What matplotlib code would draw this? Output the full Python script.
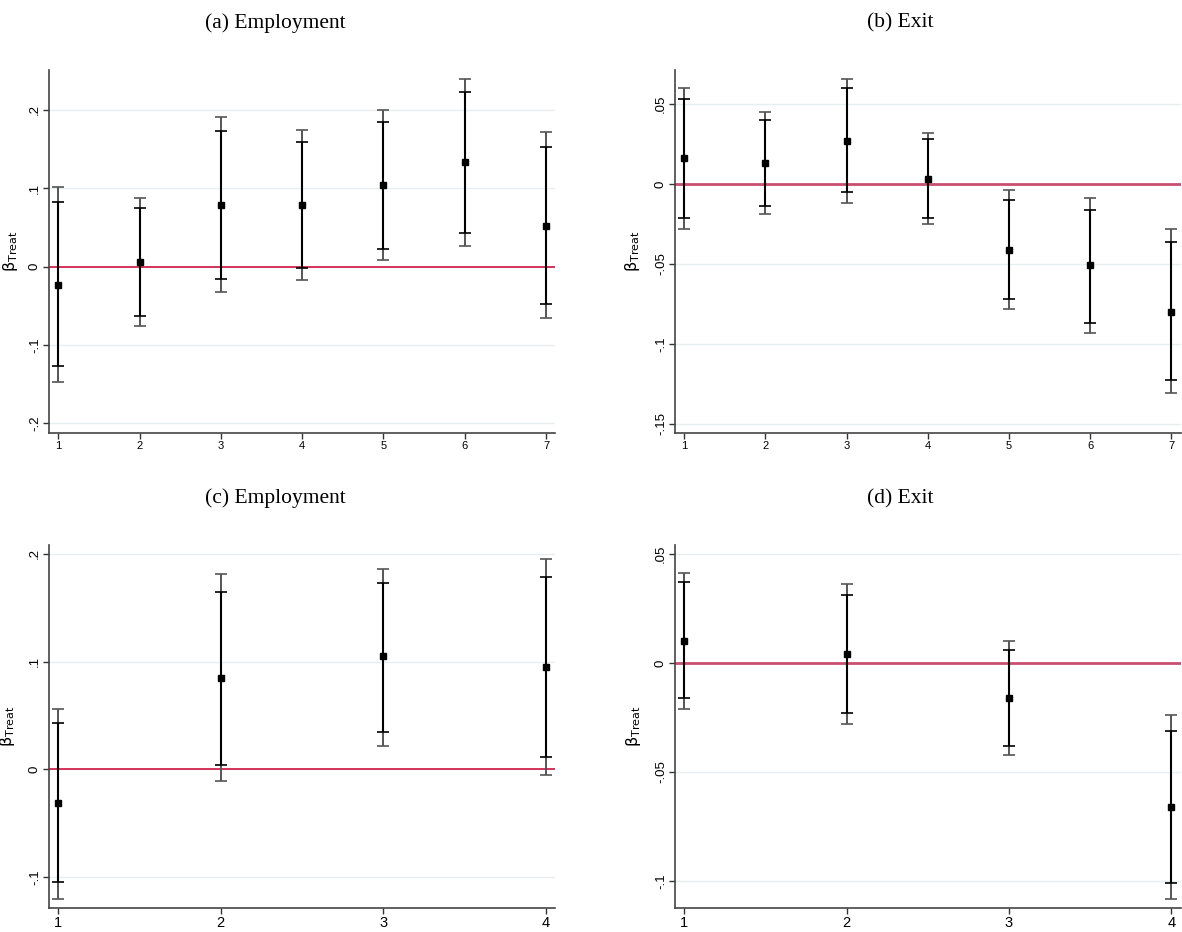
import numpy as np
import matplotlib
matplotlib.use("Agg")
import matplotlib.pyplot as plt

plt.rcParams['mathtext.fontset'] = 'dejavusans'

# panel (a) Employment, 7 periods
emp7_x = [1, 2, 3, 4, 5, 6, 7]
emp7_b = [-0.023, 0.006, 0.079, 0.079, 0.104, 0.133, 0.052]
emp7_lo90 = [-0.127, -0.063, -0.016, -0.002, 0.023, 0.043, -0.048]
emp7_hi90 = [0.082, 0.075, 0.173, 0.159, 0.185, 0.223, 0.153]
emp7_lo95 = [-0.147, -0.076, -0.033, -0.017, 0.008, 0.026, -0.066]
emp7_hi95 = [0.102, 0.088, 0.191, 0.174, 0.200, 0.240, 0.172]

# panel (b) Exit, 7 periods
exit7_x = [1, 2, 3, 4, 5, 6, 7]
exit7_b = [0.016, 0.013, 0.027, 0.003, -0.041, -0.051, -0.080]
exit7_lo90 = [-0.021, -0.014, -0.005, -0.021, -0.072, -0.087, -0.123]
exit7_hi90 = [0.053, 0.040, 0.060, 0.028, -0.010, -0.016, -0.036]
exit7_lo95 = [-0.028, -0.019, -0.012, -0.025, -0.078, -0.093, -0.131]
exit7_hi95 = [0.060, 0.045, 0.066, 0.032, -0.004, -0.009, -0.028]

# panel (c) Employment, 4 periods
emp4_x = [1, 2, 3, 4]
emp4_b = [-0.031, 0.085, 0.105, 0.095]
emp4_lo90 = [-0.105, 0.004, 0.035, 0.011]
emp4_hi90 = [0.043, 0.165, 0.173, 0.179]
emp4_lo95 = [-0.120, -0.011, 0.022, -0.005]
emp4_hi95 = [0.056, 0.181, 0.186, 0.195]

# panel (d) Exit, 4 periods
exit4_x = [1, 2, 3, 4]
exit4_b = [0.010, 0.004, -0.016, -0.066]
exit4_lo90 = [-0.016, -0.023, -0.038, -0.101]
exit4_hi90 = [0.037, 0.031, 0.006, -0.031]
exit4_lo95 = [-0.021, -0.028, -0.042, -0.108]
exit4_hi95 = [0.041, 0.036, 0.010, -0.024]

titles = ["(a) Employment", "(b) Exit", "(c) Employment", "(d) Exit"]
yticks_emp7 = [-0.2, -0.1, 0, 0.1, 0.2]
ylabels_emp7 = ["-.2", "-.1", "0", ".1", ".2"]
yticks_exit7 = [-0.15, -0.1, -0.05, 0, 0.05]
ylabels_exit7 = ["-.15", "-.1", "-.05", "0", ".05"]
yticks_emp4 = [-0.1, 0, 0.1, 0.2]
ylabels_emp4 = ["-.1", "0", ".1", ".2"]
yticks_exit4 = [-0.1, -0.05, 0, 0.05]
ylabels_exit4 = ["-.1", "-.05", "0", ".05"]

fig = plt.figure(figsize=(11.82, 9.32), dpi=100)

W = 0.4278
H = 0.3892
axpos = [
    [0.0417, 0.5357, W, H],
    [0.5713, 0.5357, W, H],
    [0.0417, 0.0261, W, H],
    [0.5713, 0.0261, W, H],
]
# title centres (figure fraction)
title_xy = [(0.233, 0.975), (0.762, 0.975), (0.233, 0.465), (0.762, 0.465)]

panels = [
    (emp7_x, emp7_b, emp7_lo90, emp7_hi90, emp7_lo95, emp7_hi95,
     yticks_emp7, ylabels_emp7, (-0.212, 0.251), (0.89, 7.11), 8, '#d3234e', 1.3, -0.057),
    (exit7_x, exit7_b, exit7_lo90, exit7_hi90, exit7_lo95, exit7_hi95,
     yticks_exit7, ylabels_exit7, (-0.1557, 0.0714), (0.89, 7.12), 8, '#c84f70', 2.0, -0.066),
    (emp4_x, emp4_b, emp4_lo90, emp4_hi90, emp4_lo95, emp4_hi95,
     yticks_emp4, ylabels_emp4, (-0.1285, 0.2084), (0.945, 4.057), 10.5, '#d3234e', 1.3, -0.064),
    (exit4_x, exit4_b, exit4_lo90, exit4_hi90, exit4_lo95, exit4_hi95,
     yticks_exit4, ylabels_exit4, (-0.1121, 0.054), (0.945, 4.06), 10.5, '#c84f70', 2.0, -0.064),
]

for i, (x, b, lo90, hi90, lo95, hi95, yt, yl, ylim, xlim, xfs, rcol, rlw, labx) in enumerate(panels):
    ax = fig.add_axes(axpos[i])
    x = np.array(x)
    b = np.array(b)
    # grid
    for t in yt:
        ax.axhline(t, color='#e6eef0', lw=1.0, zorder=0)
    ax.axhline(0, color=rcol, lw=rlw, zorder=1)
    # 95% band (grey caps)
    ax.errorbar(x, b, yerr=[b - np.array(lo95), np.array(hi95) - b], fmt='none',
                ecolor='#555555', elinewidth=1.4, capsize=4, capthick=1.2, zorder=2)
    # 90% band (black caps)
    ax.errorbar(x, b, yerr=[b - np.array(lo90), np.array(hi90) - b], fmt='none',
                ecolor='black', elinewidth=1.5, capsize=4, capthick=1.2, zorder=3)
    ax.plot(x, b, 's', color='black', ms=4.2, zorder=4)

    ax.set_ylim(*ylim)
    ax.set_xlim(*xlim)
    ax.set_yticks(yt)
    ax.set_yticklabels(yl, rotation=90, va='center', fontsize=9.5, family='Liberation Sans')
    ax.set_xticks(x)
    ax.set_xticklabels([str(v) for v in x], fontsize=xfs, family='Liberation Sans')
    ax.tick_params(direction='out', length=4, width=1, color='#333333', pad=2)
    for s in ['top', 'right']:
        ax.spines[s].set_visible(False)
    for s in ['left', 'bottom']:
        ax.spines[s].set_color('#444444')
        ax.spines[s].set_linewidth(1.2)
    ax.set_ylabel(r'$\mathrm{\beta}_{\mathrm{Treat}}$', fontsize=11.5)
    ax.yaxis.set_label_coords(labx, 0.5)
    fig.text(title_xy[i][0], title_xy[i][1], titles[i], ha='center', va='center',
             fontsize=15.5, family='Liberation Serif')

fig.savefig('out.png', dpi=100, facecolor='white')
